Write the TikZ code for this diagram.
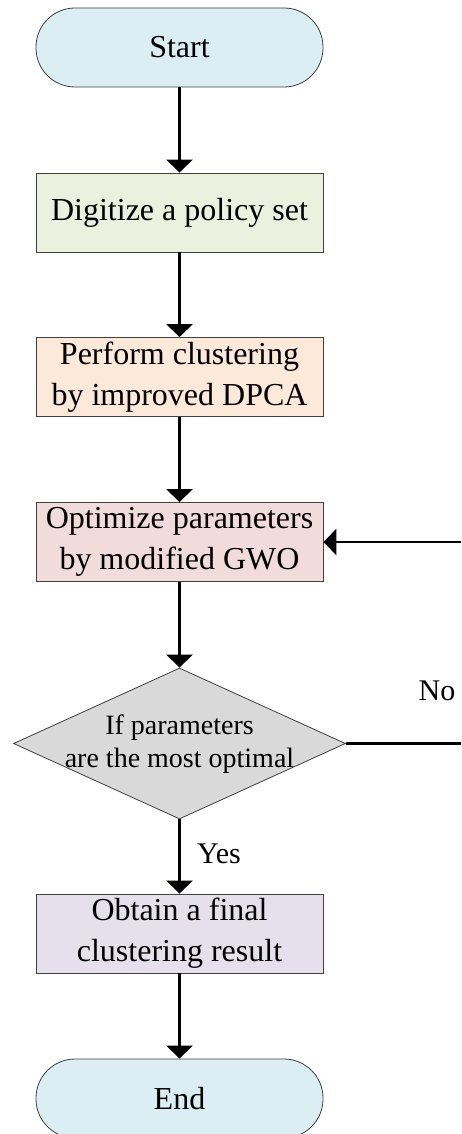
\documentclass[tikz,border=0pt]{standalone}
\usepackage{fontspec}
\setmainfont{Liberation Serif}
\usetikzlibrary{arrows.meta,shapes.geometric}
\definecolor{termfill}{HTML}{DAEEF3}
\definecolor{digfill}{HTML}{EBF1DE}
\definecolor{perffill}{HTML}{FDE9D9}
\definecolor{optfill}{HTML}{F2DCDB}
\definecolor{decfill}{HTML}{D9D9D9}
\definecolor{obtfill}{HTML}{E5E0EC}
\definecolor{edge}{HTML}{404040}
\begin{document}
\begin{tikzpicture}[x=1pt,y=-1pt,
  base/.style={draw=edge, line width=0.8pt, minimum width=287pt, minimum height=79pt, inner sep=0pt, align=center, font=\fontsize{32}{41}\selectfont},
  term/.style={base, rounded corners=39pt},
  proc/.style={base},
  decbox/.style={draw=edge, line width=0.8pt, diamond, minimum width=332pt, minimum height=151pt, inner sep=0pt, fill=decfill},
  conn/.style={line width=2.5pt, -{Triangle[width=26pt,length=13pt]}},
  plain/.style={line width=2.5pt},
  lbl/.style={font=\fontsize{30}{36}\selectfont, inner sep=0pt}
]
\useasboundingbox (0,0) rectangle (461,1134);
\node[term, fill=termfill] (start) at (179.5,47.5) {Start};
\node[proc, fill=digfill] (dig) at (179.5,212.5) {Digitize a policy set};
\node[proc, fill=perffill] (perf) at (179.5,377) {Perform clustering\\by improved DPCA};
\node[proc, fill=optfill] (opt) at (179.5,542) {Optimize parameters\\by modified GWO};
\node[decbox] (dec) at (179.5,743.5) {};
\node[font=\fontsize{28}{33}\selectfont, align=center, inner sep=0pt] (dectext) at (179.5,744) {If parameters\\are the most optimal};
\node[proc, fill=obtfill] (obt) at (179.5,933.5) {Obtain a final\\clustering result};
\node[term, fill=termfill] (end) at (179.5,1098.5) {End};

\coordinate (noend) at (461,743.5);
\coordinate (backstart) at (461,542);

\draw[conn] (start) -- (dig);
\draw[conn] (dig) -- (perf);
\draw[conn] (perf) -- (opt);
\draw[conn] (opt) -- (dec.north);
\draw[conn] (dec.south) -- (obt);
\draw[conn] (obt) -- (end);
\draw[plain] (dec.east) -- (noend);
\draw[conn] (backstart) -- (opt.east);

\node[lbl, anchor=west] (yes) at (197,854) {Yes};
\node[lbl] (no) at (437,691) {No};
\end{tikzpicture}
\end{document}
